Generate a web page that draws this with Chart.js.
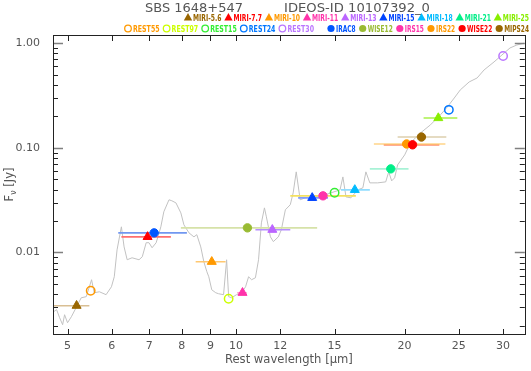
<!DOCTYPE html>
<html>
<head>
<meta charset="utf-8">
<script src="https://cdn.jsdelivr.net/npm/chart.js@4.4.1/dist/chart.umd.min.js"></script>
<style>
  html, body { margin: 0; padding: 0; background: #fff; }
</style>
</head>
<body>
<canvas id="sedChart" width="531" height="371"></canvas>
<script>
// IRS spectrum: rest wavelength [micron] and flux density [Jy]
const specWave = [4.72, 4.78, 4.84, 4.90, 4.94, 5.00, 5.08, 5.19, 5.29, 5.40, 5.52, 5.58, 5.70, 5.86, 5.99,
  6.06, 6.13, 6.24, 6.31, 6.39, 6.52, 6.71, 6.80, 6.91, 6.99, 7.08, 7.20, 7.34, 7.43, 7.59, 7.68, 7.81,
  7.97, 8.07, 8.24, 8.41, 8.51, 8.65, 8.76, 8.87, 8.94, 9.05, 9.20, 9.31, 9.50, 9.62, 9.70, 9.82, 10.02,
  10.23, 10.40, 10.53, 10.66, 10.83, 10.97, 11.10, 11.24, 11.33, 11.52, 11.66, 11.90, 12.05, 12.25, 12.50,
  12.65, 12.81, 13.02, 13.29, 13.62, 14.19, 14.78, 15.34, 15.52, 15.72, 16.04, 16.51, 16.85, 17.06, 17.34,
  17.91, 18.51, 18.74, 18.97, 19.20, 19.44, 20.01, 20.50, 21.36, 22.25, 23.18, 23.85, 24.54, 25.15, 26.09,
  26.96, 27.74, 28.90, 29.86, 30.86, 31.75, 32.67];
const specFlux = [0.00271, 0.00284, 0.00238, 0.00204, 0.00254, 0.00213, 0.00243, 0.00303, 0.00369, 0.00378,
  0.00549, 0.00412, 0.00421, 0.00395, 0.00470, 0.00586, 0.0106, 0.0176, 0.0113, 0.00852, 0.00890, 0.00852,
  0.00910, 0.0124, 0.0124, 0.0111, 0.0124, 0.0176, 0.0245, 0.0319, 0.0312, 0.0298, 0.0239, 0.0184, 0.0154,
  0.0141, 0.0148, 0.0113, 0.00815, 0.00654, 0.00586, 0.00440, 0.00412, 0.00403, 0.00395, 0.00852, 0.00378,
  0.00369, 0.00395, 0.00412, 0.00470, 0.00586, 0.00549, 0.00573, 0.00852, 0.0192, 0.0267, 0.0219, 0.0141,
  0.0127, 0.0141, 0.0165, 0.0256, 0.0286, 0.0372, 0.0590, 0.0319, 0.0333, 0.0340, 0.0345, 0.0372, 0.0397,
  0.0528, 0.0340, 0.0333, 0.0397, 0.0415, 0.0590, 0.0463, 0.0463, 0.0473, 0.0590, 0.0484, 0.0517, 0.0688,
  0.0857, 0.112, 0.139, 0.166, 0.207, 0.246, 0.300, 0.358, 0.427, 0.466, 0.556, 0.663, 0.773, 0.902,
  0.963, 1.00];

// MIRI synthetic photometry (filled triangles)
const miriBands = ['MIRI-5.6', 'MIRI-7.7', 'MIRI-10', 'MIRI-11', 'MIRI-13', 'MIRI-15', 'MIRI-18', 'MIRI-21', 'MIRI-25'];
const miriWave = [5.19, 6.95, 9.05, 10.27, 11.61, 13.68, 16.30, 18.90, 22.98];
const miriFlux = [0.0031, 0.0141, 0.00815, 0.00412, 0.0165, 0.0333, 0.0397, 0.0630, 0.193];
const miriLo = [4.60, 6.24, 8.47, 10.05, 10.83, 12.91, 15.40, 17.34, 21.63];
const miriHi = [5.47, 7.65, 9.58, 10.45, 12.50, 14.60, 17.34, 20.33, 24.85];

// rest-frame monochromatic fluxes (open circles)
const restBands = ['REST55', 'REST97', 'REST15', 'REST24', 'REST30'];
const restWave = [5.5, 9.7, 15, 24, 30];
const restFlux = [0.00431, 0.00361, 0.0372, 0.231, 0.756];

// archival photometry (filled circles)
const photBands = ['IRAC8', 'WISE12', 'IRS15', 'IRS22', 'WISE22', 'MIPS24'];
const photWave = [7.14, 10.48, 14.30, 20.17, 20.67, 21.44];
const photFlux = [0.0154, 0.0172, 0.0348, 0.109, 0.107, 0.127];
const photLo = [6.16, 7.97, 12.50, 17.63, 18.36, 19.44];
const photHi = [8.17, 13.96, 16.37, 23.66, 23.08, 23.75];

// axes
const xTickValues = [5, 6, 7, 8, 9, 10, 12, 15, 20, 25, 30];
const xTickLabels = ['5', '6', '7', '8', '9', '10', '12', '15', '20', '25', '30'];
const yTickValues = [0.01, 0.1, 1];
const yTickLabels = ['0.01', '0.10', '1.00'];

// styles
const miriColors = ['#996600', '#ff0000', '#ff9900', '#ff33aa', '#bb66ff', '#0044ff', '#00bbff', '#00ee88', '#88ee00'];
const miriBarColors = ['#d9bf94', '#ff6f6f', '#ffc870', '#ff99cc', '#b58cff', '#7f9cff', '#8fdcff', '#a8f2d6', '#a8f04a'];
const miriShapes = ['triangle', 'triangle', 'triangle', 'triangle', 'triangle', 'triangle', 'triangle', 'circle', 'triangle'];
const restColors = ['#ff9900', '#ccff00', '#33ee33', '#0077ff', '#bb77ff'];
const photColors = ['#0055ff', '#99bb33', '#ff33aa', '#ff9900', '#ff0000', '#996600'];
const photBarColors = ['#7197f0', '#d6e2a8', '#f3e060', '#ffd488', '#ff5a2a', '#ddcfae'];

const pts = (xs, ys) => xs.map((x, i) => ({ x: x, y: ys[i] }));

const datasets = [];
datasets.push({
  label: 'spectrum',
  data: pts(specWave, specFlux),
  borderColor: '#c2c2c2',
  borderWidth: 1,
  pointRadius: 0,
  tension: 0,
  order: 3
});
// horizontal bars showing filter widths
miriBands.forEach((b, i) => {
  datasets.push({
    label: b + ' width',
    data: [{ x: miriLo[i], y: miriFlux[i] }, { x: miriHi[i], y: miriFlux[i] }],
    borderColor: miriBarColors[i],
    borderWidth: 1.6,
    pointRadius: 0,
    order: 2
  });
});
photBands.forEach((b, i) => {
  datasets.push({
    label: b + ' width',
    data: [{ x: photLo[i], y: photFlux[i] }, { x: photHi[i], y: photFlux[i] }],
    borderColor: photBarColors[i],
    borderWidth: 1.6,
    pointRadius: 0,
    order: 2
  });
});
datasets.push({
  label: 'MIRI',
  data: pts(miriWave, miriFlux),
  showLine: false,
  pointStyle: miriShapes,
  pointRadius: miriShapes.map(s => s === 'circle' ? 4.2 : 5.2),
  pointBackgroundColor: miriColors,
  pointBorderColor: miriColors,
  pointBorderWidth: 1,
  order: 1
});
datasets.push({
  label: 'phot',
  data: pts(photWave, photFlux),
  showLine: false,
  pointStyle: 'circle',
  pointRadius: 4.2,
  pointBackgroundColor: photColors,
  pointBorderColor: photColors,
  pointBorderWidth: 1,
  order: 1
});
datasets.push({
  label: 'rest',
  data: pts(restWave, restFlux),
  showLine: false,
  pointStyle: 'circle',
  pointRadius: 4.2,
  pointBackgroundColor: 'rgba(255,255,255,0)',
  pointBorderColor: restColors,
  pointBorderWidth: 1.5,
  order: 0
});

// text squeezed or stretched to a given width
function fitText(ctx, text, x, y, w) {
  const nat = ctx.measureText(text).width;
  ctx.save();
  ctx.translate(x, y);
  ctx.scale(w / nat, 1);
  ctx.fillText(text, 0, 0);
  ctx.restore();
}

function legendMarker(ctx, shape, color, cx, cy) {
  ctx.fillStyle = color;
  ctx.strokeStyle = color;
  ctx.beginPath();
  if (shape === 'triangle') {
    ctx.moveTo(cx, cy - 4.5);
    ctx.lineTo(cx + 4.2, cy + 3);
    ctx.lineTo(cx - 4.2, cy + 3);
    ctx.closePath();
    ctx.fill();
  } else if (shape === 'open') {
    ctx.lineWidth = 1.3;
    ctx.arc(cx, cy, 3.3, 0, Math.PI * 2);
    ctx.stroke();
  } else {
    ctx.arc(cx, cy, 3.6, 0, Math.PI * 2);
    ctx.fill();
  }
}

function legendRow(ctx, labels, colors, shape, x0, x1, y) {
  ctx.font = 'bold 8px "DejaVu Sans"';
  const mw = 9, gap = 3;
  const widths = labels.map(l => ctx.measureText(l).width);
  const textSpan = (x1 - x0) - labels.length * mw - (labels.length - 1) * gap;
  const k = textSpan / widths.reduce((s, w) => s + w, 0);
  let x = x0;
  labels.forEach((l, i) => {
    legendMarker(ctx, shape, colors[i], x + 4, y - 3);
    ctx.fillStyle = colors[i];
    fitText(ctx, l, x + mw, y, widths[i] * k);
    x += mw + widths[i] * k + gap;
  });
}

const decorPlugin = {
  id: 'sedDecor',
  afterDraw(chart) {
    const { ctx, chartArea: a } = chart;
    const xs = chart.scales.x, ys = chart.scales.y;
    ctx.save();

    // minor ticks and x ticks, pointing inward
    ctx.strokeStyle = '#222';
    ctx.lineWidth = 1;
    ctx.beginPath();
    xTickValues.forEach(v => {
      const px = Math.round(xs.getPixelForValue(v)) + 0.5;
      ctx.moveTo(px, a.bottom); ctx.lineTo(px, a.bottom - 5);
      ctx.moveTo(px, a.top); ctx.lineTo(px, a.top + 6);
    });
    for (let d = -3; d <= 0; d++) {
      for (let m = 2; m <= 9; m++) {
        const v = m * Math.pow(10, d);
        if (v < ys.min || v > ys.max) continue;
        const py = Math.round(ys.getPixelForValue(v)) + 0.5;
        ctx.moveTo(a.left, py); ctx.lineTo(a.left + 5, py);
        ctx.moveTo(a.right, py); ctx.lineTo(a.right - 5, py);
      }
    }
    ctx.stroke();

    // decade ticks
    ctx.strokeStyle = '#808080';
    ctx.lineWidth = 1.5;
    ctx.beginPath();
    yTickValues.forEach(v => {
      const py = Math.round(ys.getPixelForValue(v)) + 0.5;
      ctx.moveTo(a.left, py); ctx.lineTo(a.left + 10, py);
      ctx.moveTo(a.right, py); ctx.lineTo(a.right - 10, py);
    });
    ctx.stroke();

    // frame
    ctx.strokeStyle = '#222';
    ctx.lineWidth = 1;
    ctx.strokeRect(Math.round(a.left) + 0.5, Math.round(a.top) + 0.5,
      Math.round(a.right - a.left), Math.round(a.bottom - a.top));

    // title
    ctx.fillStyle = '#555';
    ctx.textAlign = 'left';
    ctx.textBaseline = 'alphabetic';
    ctx.font = '11.5px "DejaVu Sans"';
    fitText(ctx, 'SBS 1648+547', 145, 12, 98);
    fitText(ctx, 'IDEOS-ID 10107392_0', 284, 12, 146);

    // x axis title
    ctx.font = '11.5px "DejaVu Sans"';
    ctx.fillStyle = '#555';
    const xt = 'Rest wavelength [\u03bcm]';
    fitText(ctx, xt, (a.left + a.right) / 2 - 64, 363, 128);

    // y axis title, F_nu [Jy]
    ctx.save();
    ctx.translate(12.5, (a.top + a.bottom) / 2);
    ctx.rotate(-Math.PI / 2);
    ctx.font = '11.5px "DejaVu Sans"';
    const wF = ctx.measureText('F').width;
    const wJ = ctx.measureText(' [Jy]').width;
    ctx.font = '8px "DejaVu Sans"';
    const wNu = ctx.measureText('\u03bd').width;
    let tx = -(wF + wNu + wJ) / 2;
    ctx.font = '11.5px "DejaVu Sans"';
    ctx.fillText('F', tx, 0);
    ctx.font = '8px "DejaVu Sans"';
    ctx.fillText('\u03bd', tx + wF, 3);
    ctx.font = '11.5px "DejaVu Sans"';
    ctx.fillText(' [Jy]', tx + wF + wNu, 0);
    ctx.restore();

    // legend rows
    legendRow(ctx, miriBands, miriColors, 'triangle', 184, 529, 20.5);
    legendRow(ctx, restBands, restColors, 'open', 124, 314, 31.5);
    legendRow(ctx, photBands, photColors, 'filled', 327, 529, 31.5);

    ctx.restore();
  }
};

const tickFont = { family: 'DejaVu Sans', size: 11 };

new Chart(document.getElementById('sedChart'), {
  type: 'line',
  data: { datasets: datasets },
  options: {
    responsive: false,
    animation: false,
    events: [],
    layout: { padding: { top: 35, right: 2, left: 0, bottom: 0 } },
    plugins: {
      legend: { display: false },
      tooltip: { enabled: false }
    },
    scales: {
      x: {
        type: 'logarithmic',
        position: 'bottom',
        min: 4.71,
        max: 32.8,
        bounds: 'data',
        grid: { display: false },
        border: { display: false },
        afterBuildTicks: s => { s.ticks = xTickValues.map(v => ({ value: v })); },
        afterFit: s => { s.height = 37; },
        ticks: {
          autoSkip: false,
          maxRotation: 0,
          padding: -2,
          color: '#555',
          font: tickFont,
          callback: (v, i) => xTickLabels[i]
        }
      },
      y: {
        type: 'logarithmic',
        position: 'left',
        min: 0.001662,
        max: 1.2,
        bounds: 'data',
        grid: { display: false },
        border: { display: false },
        afterBuildTicks: s => { s.ticks = yTickValues.map(v => ({ value: v })); },
        afterFit: s => { s.width = 53; },
        ticks: {
          autoSkip: false,
          padding: 5,
          color: '#555',
          font: tickFont,
          callback: (v, i) => yTickLabels[i]
        }
      }
    }
  },
  plugins: [decorPlugin]
});
</script>
</body>
</html>
